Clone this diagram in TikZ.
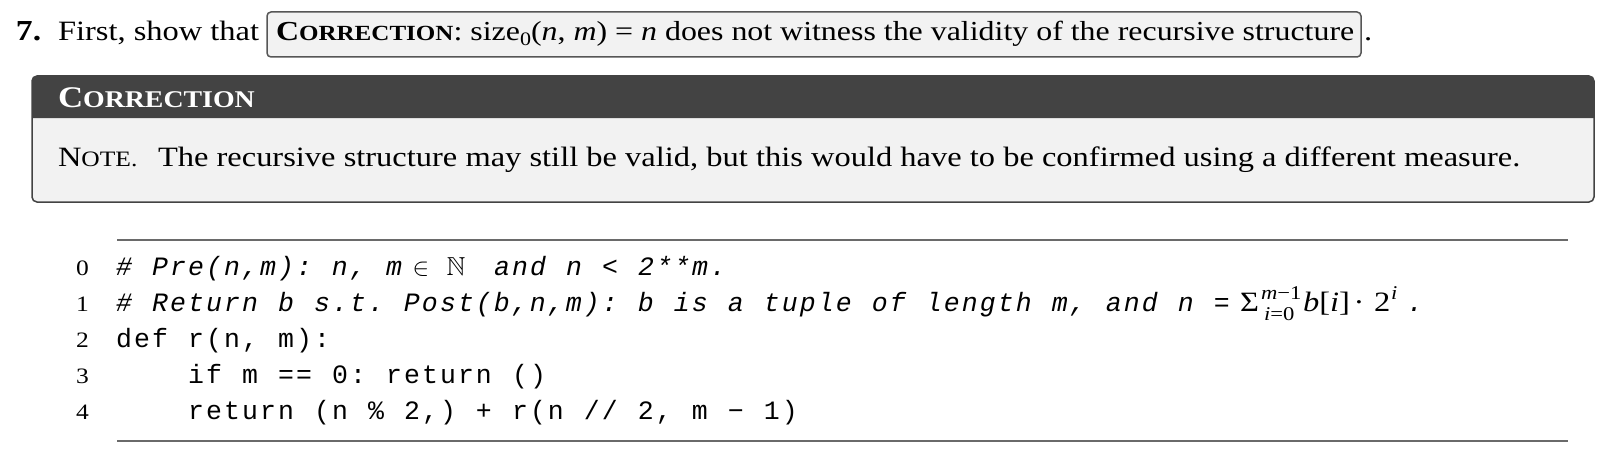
\documentclass[tikz,border=0pt]{standalone}
\usepackage{fontspec}
\usepackage{amssymb}
\setmainfont{Liberation Serif}[FakeStretch=1.16]
\setmonofont{Liberation Mono}
\definecolor{hdr}{HTML}{434343}
\definecolor{boxbg}{HTML}{F2F2F2}
\definecolor{rulec}{HTML}{6A6A6A}
\ExplSyntaxOn
\NewDocumentCommand\cols{m}{\tl_map_inline:nn{#1}{\hbox_to_wd:nn{18pt}{\hss ##1\hss}}}
\ExplSyntaxOff
\newcommand\txt{\fontsize{28}{34}\selectfont\rmfamily}
\newcommand\codefont{\fontsize{26.5}{30}\selectfont\ttfamily}
\newcommand\lnum{\fontsize{22}{26}\selectfont\rmfamily}
\newcommand\scr{\fontsize{19.5}{20}\selectfont}
\tikzset{
  t/.style={anchor=base west, inner sep=0pt, outer sep=0pt, font=\txt},
  cd/.style={anchor=base west, inner sep=0pt, outer sep=0pt, font=\codefont},
  cdi/.style={cd, font=\codefont\itshape},
  ln/.style={anchor=base east, inner sep=0pt, outer sep=0pt, font=\lnum},
  mth/.style={anchor=base west, inner sep=0pt, outer sep=0pt, font=\fontsize{28}{30}\selectfont\rmfamily},
  rulel/.style={draw=rulec, line width=1.3pt},
}
\begin{document}
\begin{tikzpicture}[x=1pt,y=-1pt]
\useasboundingbox (0,0) rectangle (1604,452);
% question line
\node[t, font=\fontsize{29}{34}\selectfont\rmfamily\bfseries] (num) at (16,41) {7.};
\node[t] (first) at (58,41) {First, show that};
\draw[draw=hdr!90, line width=1.5pt, fill=boxbg, rounded corners=4pt] (267,12) rectangle (1361,57);
\node[t, font=\fontsize{27.5}{34}\selectfont\rmfamily] (title) at (276,41) {\textbf{C{\fontsize{21.6}{22}\selectfont ORRECTION}}: size\raisebox{-5pt}{\fontsize{19}{19}\selectfont 0}(\textit{n}, \textit{m}) = \textit{n} does not witness the validity of the recursive structure};
\node[t] (dot) at (1364,41) {.};
% correction box
\draw[draw=hdr, line width=1.5pt, fill=boxbg, rounded corners=5pt] (32,76) rectangle (1594,202);
\fill[hdr] (32,118) [rounded corners=5pt] -- (32,76) -- (1594,76) [sharp corners] -- (1594,118) -- cycle;
\node[t, text=white, font=\fontsize{30}{34}\selectfont\bfseries] (corr) at (58,107) {C{\fontsize{24}{24}\selectfont ORRECTION}};
\node[t] (note) at (58,166) {N{\fontsize{22}{22}\selectfont OTE.}};
\node[t] (notetext) at (158,166) {The recursive structure may still be valid, but this would have to be confirmed using a different measure.};
% code rules
\coordinate (r1a) at (117,240); \coordinate (r1b) at (1568,240);
\coordinate (r2a) at (117,441); \coordinate (r2b) at (1568,441);
\draw[rulel] (r1a) -- (r1b);
\draw[rulel] (r2a) -- (r2b);
% line numbers
\node[ln] (n0) at (89,275) {0};
\node[ln] (n1) at (89,311) {1};
\node[ln] (n2) at (89,347) {2};
\node[ln] (n3) at (89,383) {3};
\node[ln] (n4) at (89,419) {4};
% line 0
\node[cdi] (c0a) at (115,275) {\cols{\#~Pre(n,m):~n,~m~}};
\node[anchor=base, inner sep=0pt] (c0in) at (421,275) {\fontsize{26}{30}\selectfont$\in$};
\node[anchor=base, inner sep=0pt] (c0N) at (456,275) {\fontsize{26}{30}\selectfont$\mathbb{N}$};
\node[cdi] (c0b) at (493,275) {\cols{and~n~<~2**m.}};
% line 1
\node[cdi] (c1a) at (115,311) {\cols{\#~Return~b~s.t.~Post(b,n,m):~b~is~a~tuple~of~length~m,~and~n~=}};
\node[mth] (sig) at (1240,311) {Σ};
\node[mth, font=\scr\rmfamily] (sup) at (1261,299) {\textit{m}−1};
\node[mth, font=\scr\rmfamily] (sub) at (1264,320) {\textit{i}=0};
\node[mth] (bi) at (1303,311) {\textit{b}[\textit{i}]};
\node[anchor=base, inner sep=0pt, font=\fontsize{28}{30}\selectfont\rmfamily] (cdot) at (1359,311) {·};
\node[mth] (two) at (1374,311) {2};
\node[mth, font=\scr\rmfamily\itshape] (supi) at (1391,299) {i};
\node[cdi] (c1b) at (1406,311) {\cols{.}};
% line 2-4
\node[cd] (c2) at (115,347) {\cols{def~r(n,~m):}};
\node[cd] (c3) at (115,383) {\cols{~~~~if~m~==~0:~return~()}};
\node[cd] (c4) at (115,419) {\cols{~~~~return~(n~\%~2,)~+~r(n~//~2,~m~−~1)}};
\end{tikzpicture}
\end{document}
